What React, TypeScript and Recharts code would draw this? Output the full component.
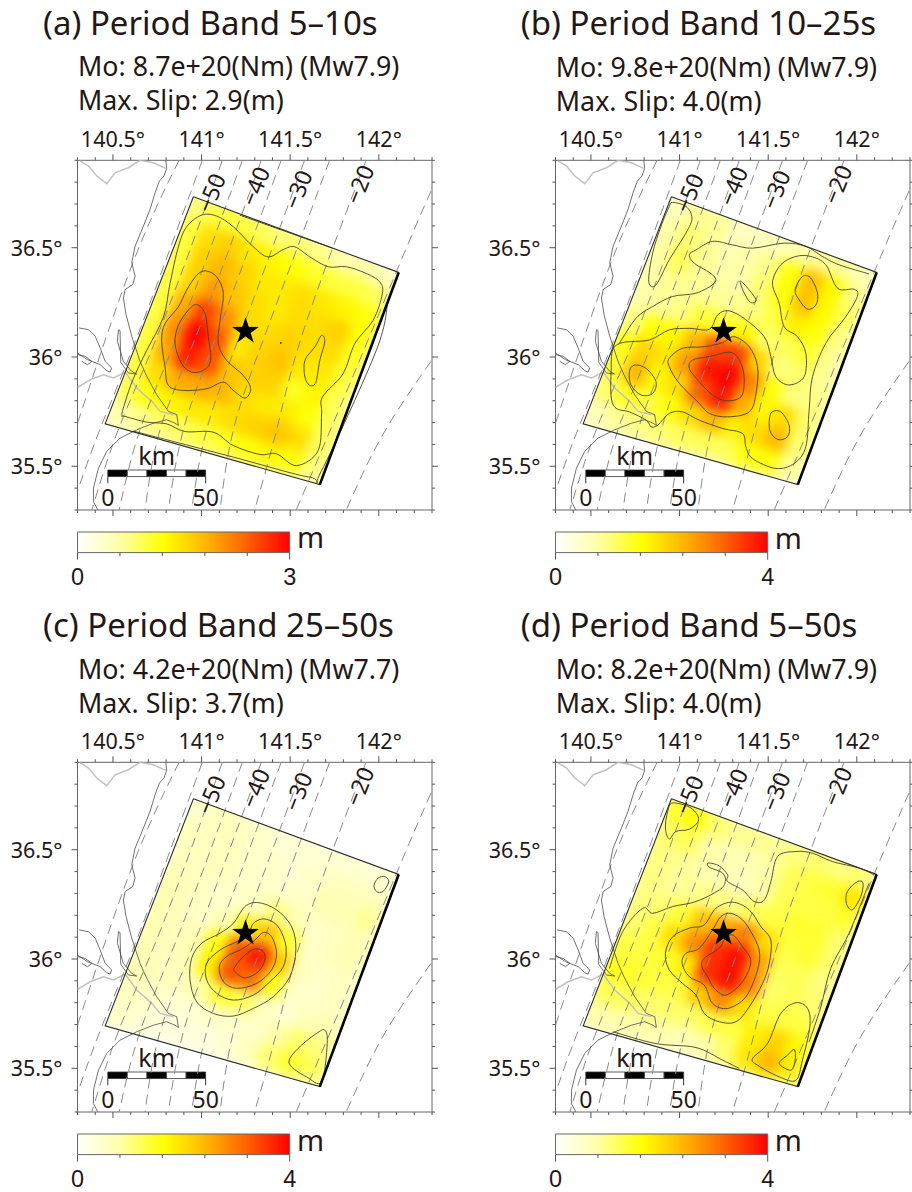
import React from 'react';
import { ScatterChart, Scatter, XAxis, YAxis, ReferenceArea } from 'recharts';

type Pt = [number, number];

const INK = '#231815';
const FONT = '"Noto Sans", sans-serif';

const lonTicks = [140.3, 140.4, 140.5, 140.6, 140.7, 140.8, 140.9, 141, 141.1, 141.2, 141.3, 141.4, 141.5, 141.6, 141.7, 141.8, 141.9, 142, 142.1, 142.2, 142.3];
const latTicks = [35.3, 35.4, 35.5, 35.6, 35.7, 35.8, 35.9, 36, 36.1, 36.2, 36.3, 36.4, 36.5, 36.6, 36.7, 36.8, 36.9];
const lonLabels = [140.5, 141, 141.5, 142];
const latLabels = [35.5, 36, 36.5];

const faultCorners: Pt[] = [[140.954, 36.733], [142.112, 36.387], [141.667, 35.416], [140.456, 35.694]];
const epicenter: Pt = [141.248, 36.118];

// colour table of the slip scale, position 0-1
const colorStops: [number, string][] = [[0, '#ffffff'], [0.2, '#ffffa8'], [0.41, '#ffff00'], [0.6, '#ffb800'], [0.8, '#ff6000'], [1, '#ff0000']];

const barTicks3 = [0, 0.6, 1.2, 1.8, 2.4, 3];
const barTicks4 = [0, 0.8, 1.6, 2.4, 3.2, 4];

const scaleBarLon = [140.471, 140.581, 140.692, 140.802, 140.913, 141.023];

const coastMain: Pt[] = [[140.798, 36.9], [140.803, 36.863], [140.788, 36.828], [140.762, 36.805], [140.738, 36.752], [140.709, 36.675], [140.672, 36.599], [140.625, 36.507], [140.606, 36.431], [140.625, 36.37], [140.612, 36.332], [140.569, 36.309], [140.559, 36.27], [140.574, 36.194], [140.606, 36.095], [140.653, 35.98], [140.691, 35.911], [140.747, 35.827], [140.813, 35.751], [140.86, 35.736], [140.869, 35.687], [140.85, 35.697], [140.803, 35.713], [140.728, 35.697], [140.634, 35.667], [140.54, 35.629], [140.465, 35.568], [140.418, 35.491], [140.39, 35.4], [140.39, 35.338], [140.415, 35.3]];
const lakeNorth: Pt[] = [[140.309, 36.133], [140.362, 36.125], [140.4, 36.095], [140.428, 36.041], [140.456, 35.98], [140.493, 35.95], [140.484, 35.931], [140.465, 35.937], [140.428, 35.965], [140.356, 35.988], [140.3, 36.018]];
const lakeSouth: Pt[] = [[140.3, 36.011], [140.343, 36.003], [140.381, 35.98], [140.356, 35.965], [140.324, 35.98]];
const lakeEast: Pt[] = [[140.54, 36.121], [140.531, 36.125], [140.525, 36.072], [140.559, 35.98], [140.606, 35.934], [140.634, 35.922], [140.587, 35.927], [140.544, 35.976], [140.54, 36.121]];
const borderNorth: Pt[] = [[140.315, 36.897], [140.362, 36.874], [140.409, 36.828], [140.465, 36.793], [140.512, 36.843], [140.587, 36.866], [140.653, 36.9], [140.728, 36.889], [140.798, 36.863]];
const borderSouth: Pt[] = [[140.3, 35.861], [140.371, 35.896], [140.446, 35.919], [140.503, 35.904], [140.569, 35.931], [140.634, 35.858], [140.719, 35.797], [140.766, 35.751], [140.841, 35.736]];

const depthLines: Pt[][] = [
  [[140.873, 36.9], [140.61, 36.426], [140.3, 35.697]],
  [[141.004, 36.9], [140.657, 36.136], [140.431, 35.678], [140.3, 35.387]],
  [[141.117, 36.9], [140.77, 36.136], [140.535, 35.678], [140.381, 35.3]],
  [[141.23, 36.9], [140.882, 36.136], [140.657, 35.678], [140.535, 35.3]],
  [[141.337, 36.9], [140.989, 36.136], [140.77, 35.678], [140.681, 35.3]],
  [[141.449, 36.9], [141.102, 36.136], [140.901, 35.678], [140.813, 35.3]],
  [[141.581, 36.9], [141.233, 36.136], [141.032, 35.678], [140.944, 35.3]],
  [[141.722, 36.9], [141.374, 36.136], [141.183, 35.678], [141.104, 35.3]],
  [[141.928, 36.9], [141.581, 36.136], [141.427, 35.678], [141.299, 35.3]],
  [[142.294, 36.759], [142.116, 36.423], [141.834, 35.873], [141.534, 35.3]],
  [[142.294, 35.98], [142.022, 35.644], [141.816, 35.3]],
];
const depthLabels = [
  { lon: 141.051, lat: 36.752, text: '\u221250' },
  { lon: 141.301, lat: 36.782, text: '\u221240' },
  { lon: 141.541, lat: 36.767, text: '\u221230' },
  { lon: 141.889, lat: 36.79, text: '\u221220' },
];

// slip (m) on the fault plane, rows from the top edge down, columns left to right
const slipA = [
  [0.8, 1.0, 1.0, 0.9, 0.8, 0.8, 0.7, 0.6, 0.6, 0.5],
  [1.0, 1.5, 1.6, 1.4, 1.3, 1.2, 1.1, 1.0, 1.0, 0.9],
  [1.0, 1.6, 1.8, 1.6, 1.4, 1.4, 1.5, 1.4, 1.3, 1.2],
  [1.0, 1.6, 2.0, 1.7, 1.5, 1.4, 1.5, 1.5, 1.6, 1.2],
  [1.0, 1.9, 2.6, 2.1, 1.5, 1.5, 1.6, 1.5, 1.5, 1.1],
  [1.0, 2.1, 3.0, 2.5, 1.4, 1.6, 1.7, 1.4, 1.4, 1.0],
  [1.0, 1.9, 2.8, 2.5, 1.7, 1.6, 1.6, 1.1, 1.3, 0.9],
  [1.0, 1.5, 1.9, 1.9, 1.8, 1.5, 1.4, 1.4, 1.2, 0.9],
  [0.9, 1.2, 1.3, 1.4, 1.4, 1.5, 1.6, 1.7, 1.5, 0.9],
  [0.6, 0.7, 0.8, 0.9, 1.0, 1.1, 1.2, 1.3, 1.2, 0.8],
];
const slipB = [
  [0.6, 0.9, 0.9, 0.6, 0.6, 0.7, 0.8, 0.9, 0.9, 0.7],
  [0.8, 1.1, 0.9, 0.7, 0.8, 1.0, 1.6, 2.3, 1.7, 1.0],
  [0.8, 1.2, 0.9, 0.8, 0.8, 1.1, 1.6, 2.3, 1.7, 1.2],
  [0.8, 0.9, 0.9, 0.9, 0.9, 1.0, 1.3, 1.8, 1.6, 1.0],
  [0.8, 0.9, 1.0, 1.4, 1.5, 1.7, 1.1, 1.2, 1.4, 0.9],
  [1.0, 1.6, 1.7, 2.4, 3.4, 3.5, 2.1, 1.0, 1.1, 0.9],
  [1.5, 2.1, 1.9, 2.7, 3.8, 4.0, 2.9, 1.6, 1.0, 1.0],
  [1.4, 2.4, 1.7, 2.0, 3.2, 3.8, 2.5, 1.7, 2.0, 1.1],
  [1.1, 1.5, 1.3, 1.6, 2.0, 2.4, 1.8, 2.0, 2.4, 1.1],
  [0.7, 0.9, 1.0, 1.1, 1.2, 1.2, 1.2, 1.6, 1.6, 0.9],
];
const slipC = [
  [0.5, 0.6, 0.6, 0.5, 0.4, 0.4, 0.4, 0.4, 0.4, 0.4],
  [0.6, 0.6, 0.6, 0.5, 0.5, 0.4, 0.5, 0.6, 0.6, 0.6],
  [0.6, 0.6, 0.6, 0.5, 0.5, 0.5, 0.5, 0.7, 0.7, 0.9],
  [0.7, 0.6, 0.5, 0.5, 0.6, 1.0, 0.7, 0.5, 0.6, 0.7],
  [0.7, 0.6, 0.5, 0.7, 1.8, 2.3, 1.4, 0.5, 0.6, 0.7],
  [0.7, 0.6, 0.7, 1.6, 3.3, 3.8, 2.2, 0.6, 0.5, 0.6],
  [0.7, 0.6, 0.7, 1.8, 3.3, 3.1, 1.5, 0.5, 0.5, 0.6],
  [0.7, 0.6, 0.6, 0.8, 1.4, 1.2, 0.6, 0.4, 0.6, 0.7],
  [0.6, 0.5, 0.4, 0.4, 0.5, 0.5, 0.5, 0.8, 1.1, 1.0],
  [0.5, 0.4, 0.3, 0.3, 0.3, 0.4, 0.6, 1.1, 1.4, 1.2],
];
const slipD = [
  [1.4, 1.6, 1.1, 0.9, 0.9, 0.9, 1.0, 1.1, 1.0, 1.1],
  [1.1, 1.2, 0.8, 0.7, 0.7, 0.8, 1.2, 1.3, 1.4, 1.9],
  [1.0, 0.9, 0.8, 0.7, 0.6, 0.8, 1.2, 1.3, 1.3, 1.4],
  [1.0, 0.9, 0.9, 1.0, 1.0, 1.2, 1.3, 1.4, 1.4, 1.1],
  [1.0, 1.1, 1.4, 2.3, 2.6, 2.9, 2.0, 1.3, 1.4, 1.1],
  [1.1, 1.3, 2.0, 2.8, 3.6, 3.9, 2.7, 1.2, 1.2, 1.0],
  [1.3, 1.3, 1.4, 1.8, 3.6, 3.9, 2.9, 1.1, 1.2, 1.1],
  [1.5, 1.4, 1.3, 1.3, 2.2, 2.8, 2.0, 1.3, 1.3, 1.3],
  [1.2, 1.2, 1.1, 1.1, 1.1, 1.3, 1.3, 1.8, 2.1, 1.7],
  [0.8, 0.8, 0.8, 0.8, 0.7, 0.8, 1.1, 1.9, 2.4, 1.8],
];

const closedA: Pt[][] = [
  [[140.55, 35.733], [140.569, 35.794], [140.615, 35.901], [140.691, 36.031], [140.785, 36.183], [140.822, 36.336], [140.869, 36.504], [140.916, 36.596], [141.0, 36.649], [141.085, 36.645], [141.179, 36.596], [141.292, 36.504], [141.376, 36.458], [141.461, 36.492], [141.526, 36.504], [141.611, 36.458], [141.714, 36.413], [141.817, 36.413], [141.93, 36.382], [142.005, 36.344], [142.02, 36.29], [141.968, 36.168], [141.864, 36.061], [141.799, 35.924], [141.682, 35.817], [141.677, 35.74], [141.658, 35.572], [141.536, 35.503], [141.423, 35.557], [141.329, 35.554], [141.179, 35.595], [141.066, 35.656], [140.907, 35.659], [140.803, 35.694], [140.691, 35.702], [140.569, 35.728]],
  [[141.023, 36.394], [141.085, 36.367], [141.123, 36.29], [141.104, 36.168], [141.094, 36.061], [141.141, 35.985], [141.235, 35.916], [141.277, 35.855], [141.245, 35.812], [141.179, 35.847], [141.123, 35.885], [141.029, 35.855], [140.897, 35.847], [140.813, 35.87], [140.794, 35.954], [140.775, 36.076], [140.794, 36.153], [140.869, 36.229], [140.916, 36.306], [140.972, 36.374]],
  [[140.972, 36.24], [141.019, 36.199], [141.038, 36.092], [141.051, 35.985], [141.01, 35.939], [140.944, 35.931], [140.888, 35.969], [140.85, 36.061], [140.869, 36.145], [140.925, 36.214]],
  [[141.677, 36.099], [141.695, 36.069], [141.667, 35.985], [141.645, 35.885], [141.611, 35.87], [141.583, 35.908], [141.583, 35.985], [141.639, 36.046]],
];
const openA: Pt[][] = [
  [[141.216, 36.649], [141.451, 36.581], [141.742, 36.497]],
  [[140.615, 35.661], [141.179, 35.542], [141.611, 35.45], [141.677, 35.48], [141.986, 36.031], [142.052, 36.26]],
];

const closedB: Pt[][] = [
  [[140.623, 36.032], [140.679, 36.066], [140.83, 36.078], [140.942, 36.124], [141.055, 36.131], [141.168, 36.127], [141.215, 36.193], [141.28, 36.211], [141.374, 36.17], [141.478, 36.093], [141.515, 36.002], [141.543, 35.91], [141.618, 35.872], [141.703, 35.91], [141.712, 36.017], [141.665, 36.093], [141.59, 36.139], [141.562, 36.246], [141.524, 36.338], [141.571, 36.422], [141.656, 36.46], [141.74, 36.46], [141.825, 36.422], [141.891, 36.315], [141.985, 36.31], [142.003, 36.277], [141.938, 36.185], [141.825, 36.063], [141.75, 35.91], [141.731, 35.757], [141.712, 35.589], [141.647, 35.513], [141.543, 35.49], [141.412, 35.535], [141.374, 35.589], [141.355, 35.65], [141.243, 35.673], [141.111, 35.711], [141.017, 35.749], [140.942, 35.742], [140.877, 35.688], [140.839, 35.681], [140.811, 35.711], [140.717, 35.749], [140.642, 35.765], [140.614, 35.818], [140.614, 35.94]],
  [[140.942, 35.994], [141.017, 36.04], [141.139, 36.047], [141.243, 36.066], [141.308, 36.093], [141.393, 36.047], [141.44, 35.956], [141.431, 35.833], [141.393, 35.749], [141.271, 35.726], [141.168, 35.742], [141.111, 35.788], [140.999, 35.879], [140.942, 35.956]],
  [[141.055, 35.948], [141.074, 35.986], [141.168, 36.002], [141.29, 36.021], [141.346, 35.971], [141.365, 35.895], [141.346, 35.818], [141.262, 35.8], [141.186, 35.826], [141.111, 35.887]],
  [[141.693, 36.368], [141.74, 36.361], [141.778, 36.292], [141.769, 36.238], [141.722, 36.219], [141.675, 36.261], [141.652, 36.307]],
  [[140.745, 35.963], [140.811, 35.948], [140.867, 35.887], [140.848, 35.833], [140.783, 35.826], [140.726, 35.872], [140.717, 35.933]],
  [[141.515, 35.742], [141.571, 35.749], [141.618, 35.688], [141.609, 35.635], [141.553, 35.623], [141.509, 35.665]],
  [[141.342, 36.348], [141.393, 36.307], [141.431, 36.261], [141.402, 36.249], [141.365, 36.292]],
  [[140.961, 36.707], [141.036, 36.689], [141.07, 36.636], [141.036, 36.567], [140.942, 36.445], [140.867, 36.33], [140.826, 36.345], [140.848, 36.475], [140.895, 36.597], [140.942, 36.689]],
];
const openB: Pt[][] = [
  [[142.069, 36.38], [141.9, 36.422], [141.806, 36.46], [141.712, 36.506], [141.59, 36.521], [141.412, 36.498], [141.299, 36.513], [141.186, 36.529], [141.093, 36.49], [141.055, 36.468], [141.083, 36.429], [141.186, 36.376], [141.196, 36.338], [141.093, 36.292], [140.961, 36.277], [140.848, 36.231], [140.754, 36.177], [140.661, 36.063]],
];

const closedC: Pt[][] = [
  [[141.245, 36.24], [141.32, 36.258], [141.423, 36.225], [141.508, 36.148], [141.532, 36.041], [141.498, 35.919], [141.404, 35.827], [141.292, 35.774], [141.179, 35.739], [141.066, 35.751], [140.972, 35.804], [140.935, 35.904], [140.944, 36.003], [141.0, 36.072], [141.104, 36.118], [141.179, 36.163]],
  [[141.292, 36.163], [141.357, 36.183], [141.432, 36.148], [141.476, 36.057], [141.461, 35.965], [141.385, 35.896], [141.292, 35.835], [141.179, 35.812], [141.085, 35.843], [141.029, 35.904], [141.029, 35.98], [141.104, 36.041], [141.198, 36.079], [141.263, 36.11]],
  [[141.348, 36.121], [141.395, 36.102], [141.423, 36.026], [141.395, 35.95], [141.31, 35.888], [141.198, 35.866], [141.123, 35.896], [141.1, 35.965], [141.141, 36.011], [141.235, 36.049], [141.301, 36.087]],
  [[141.301, 36.046], [141.348, 36.034], [141.357, 35.995], [141.32, 35.942], [141.245, 35.914], [141.188, 35.942], [141.188, 35.965], [141.245, 36.018]],
  [[142.033, 36.377], [142.056, 36.354], [142.024, 36.309], [141.986, 36.309], [141.973, 36.339], [141.996, 36.37]],
  [[141.695, 35.675], [141.709, 35.613], [141.677, 35.438], [141.592, 35.461], [141.508, 35.506], [141.498, 35.545], [141.564, 35.606], [141.648, 35.659]],
];
const openC: Pt[][] = [];

const closedD: Pt[][] = [
  [[141.299, 36.26], [141.393, 36.225], [141.459, 36.148], [141.515, 36.087], [141.506, 35.98], [141.468, 35.888], [141.393, 35.781], [141.318, 35.713], [141.224, 35.713], [141.139, 35.751], [141.093, 35.835], [141.017, 35.888], [140.942, 35.95], [140.92, 36.026], [140.961, 36.102], [141.055, 36.141], [141.139, 36.156], [141.205, 36.232]],
  [[141.29, 36.209], [141.355, 36.179], [141.402, 36.125], [141.449, 36.041], [141.44, 35.95], [141.374, 35.827], [141.271, 35.774], [141.186, 35.797], [141.139, 35.881], [141.055, 35.919], [141.014, 35.98], [141.036, 36.026], [141.111, 36.049], [141.186, 36.133], [141.233, 36.194]],
  [[141.299, 36.11], [141.355, 36.057], [141.402, 35.988], [141.355, 35.896], [141.262, 35.835], [141.196, 35.866], [141.158, 35.919], [141.126, 35.965], [141.139, 36.003], [141.224, 36.049], [141.252, 36.087]],
  [[140.961, 36.714], [141.064, 36.691], [141.108, 36.637], [141.055, 36.594], [140.98, 36.584], [140.942, 36.549], [140.92, 36.599], [140.933, 36.675]],
  [[142.003, 36.354], [142.035, 36.347], [142.022, 36.286], [141.975, 36.225], [141.941, 36.255], [141.947, 36.309]],
  [[141.656, 35.8], [141.722, 35.774], [141.735, 35.69], [141.693, 35.537], [141.656, 35.445], [141.562, 35.461], [141.44, 35.514], [141.412, 35.545], [141.496, 35.613], [141.571, 35.751]],
  [[141.647, 35.586], [141.652, 35.537], [141.628, 35.491], [141.562, 35.522], [141.609, 35.56]],
];
const openD: Pt[][] = [
  [[140.604, 35.957], [140.679, 36.125], [140.792, 36.232], [140.848, 36.209], [140.961, 36.24], [141.093, 36.263], [141.224, 36.316], [141.258, 36.354], [141.243, 36.393], [141.168, 36.42], [141.162, 36.439], [141.224, 36.426], [141.271, 36.385], [141.271, 36.354], [141.355, 36.316], [141.421, 36.263], [141.478, 36.27], [141.515, 36.354], [141.553, 36.469], [141.656, 36.492], [141.75, 36.484], [141.862, 36.446], [142.013, 36.416], [142.097, 36.385]],
  [[140.623, 35.667], [140.867, 35.613], [141.093, 35.595], [141.243, 35.537], [141.337, 35.499]],
  [[141.731, 35.621], [141.797, 35.781], [141.853, 35.957], [141.956, 36.118], [142.069, 36.347]],
];

const speckA: Pt[] = [[141.447, 36.064]];
const speckB: Pt[] = [[141.168, 35.948]];

const toPoints = (pts: Pt[]) => pts.map(([lon, lat]) => ({ lon, lat }));
const noMark = () => <g />;

const hex = (s: string, i: number) => parseInt(s.slice(i, i + 2), 16);
function slipColor(frac: number) {
  const f = Math.max(0, Math.min(1, frac));
  for (let k = 1; k < colorStops.length; k++) {
    const [p0, c0] = colorStops[k - 1];
    const [p1, c1] = colorStops[k];
    if (f <= p1) {
      const t = (f - p0) / (p1 - p0);
      const mix = (i: number) => Math.round(hex(c0, i) + (hex(c1, i) - hex(c0, i)) * t);
      return `rgb(${mix(1)},${mix(3)},${mix(5)})`;
    }
  }
  return '#ff0000';
}

// cell centres on the fault plane; two extra rings keep the blur solid up to the fault edge
function buildCells(grid: number[][]) {
  const [tl, tr, br, bl] = faultCorners;
  const cells: { lon: number; lat: number; slip: number }[] = [];
  for (let j = -2; j < 12; j++) {
    for (let i = -2; i < 12; i++) {
      const u = (i + 0.5) / 10;
      const v = (j + 0.5) / 10;
      const mixAt = (k: number) => tl[k] * (1 - u) * (1 - v) + tr[k] * u * (1 - v) + br[k] * u * v + bl[k] * (1 - u) * v;
      const row = grid[Math.max(0, Math.min(9, j))];
      const outside = i < 0 || i > 9 || j < 0 || j > 9;
      const value = row[Math.max(0, Math.min(9, i))];
      cells.push({ lon: mixAt(0), lat: mixAt(1), slip: outside ? value * 0.55 : value });
    }
  }
  return cells;
}

// Catmull-Rom through the digitised vertices, the contours have sharp bends the basis curve rounds off
function smoothPath(pts: { x: number; y: number }[], closed: boolean) {
  const n = pts.length;
  const at = (i: number) => (closed ? pts[(i + n) % n] : pts[Math.max(0, Math.min(n - 1, i))]);
  let d = `M${pts[0].x},${pts[0].y}`;
  const last = closed ? n : n - 1;
  for (let i = 0; i < last; i++) {
    const [p0, p1, p2, p3] = [at(i - 1), at(i), at(i + 1), at(i + 2)];
    const c1x = p1.x + (p2.x - p0.x) / 6;
    const c1y = p1.y + (p2.y - p0.y) / 6;
    const c2x = p2.x - (p3.x - p1.x) / 6;
    const c2y = p2.y - (p3.y - p1.y) / 6;
    d += `C${c1x},${c1y} ${c2x},${c2y} ${p2.x},${p2.y}`;
  }
  return closed ? `${d}Z` : d;
}

const contourLine = (closed: boolean) => (p: any) => (
  <path d={smoothPath(p.points, closed)} fill="none" stroke="#45432e" strokeWidth={0.9} />
);

const LonTick = ({ x, y, payload, side }: any) => {
  const major = lonLabels.includes(payload.value);
  const dir = side === 'top' ? -1 : 1;
  return (
    <g>
      <line x1={x} x2={x} y1={y} y2={y + dir * (major ? 6 : 3)} stroke="#555" />
      {major && side === 'top' && (
        <text x={x} y={y - 13.5} textAnchor="middle" fontFamily={FONT} fontSize={21.5} fill={INK}>{`${payload.value}\u00b0`}</text>
      )}
    </g>
  );
};

const LatTick = ({ x, y, payload, side }: any) => {
  const major = latLabels.includes(payload.value);
  const dir = side === 'left' ? -1 : 1;
  return (
    <g>
      <line x1={x} x2={x + dir * (major ? 6 : 3)} y1={y} y2={y} stroke="#555" />
      {major && side === 'left' && (
        <text x={x - 15} y={y + 8} textAnchor="end" fontFamily={FONT} fontSize={21.5} fill={INK}>{`${payload.value}\u00b0`}</text>
      )}
    </g>
  );
};

// Liberation here: its shorter descent keeps the label box inside the bottom of the page
const BarTick = ({ x, y, payload, last }: any) => {
  const end = payload.value === 0 || payload.value === last;
  return (
    <g>
      <line x1={x} x2={x} y1={y} y2={y + (end ? 7 : 3.5)} stroke="#555" />
      {end && <text x={x} y={y + 32} textAnchor="middle" fontFamily='"Liberation Sans", sans-serif' fontSize={23.5} fill={INK}>{payload.value}</text>}
    </g>
  );
};

const TextMark = ({ cx, cy, payload, size, rotate }: any) => (
  <text x={cx} y={cy} textAnchor="middle" dominantBaseline="central" fontFamily={FONT} fontSize={size} fill={INK} transform={rotate ? `rotate(${rotate} ${cx} ${cy})` : undefined}>
    {payload.text}
  </text>
);

const StarMark = ({ cx, cy }: any) => {
  const pts: string[] = [];
  for (let k = 0; k < 10; k++) {
    const r = k % 2 === 0 ? 14 : 5.4;
    const a = (Math.PI / 5) * k - Math.PI / 2;
    pts.push(`${cx + r * Math.cos(a)},${cy + r * Math.sin(a)}`);
  }
  return <polygon points={pts.join(' ')} fill="#000" />;
};

const thinLine = (stroke: string, strokeWidth: number, strokeDasharray?: string) => ({ stroke, strokeWidth, strokeDasharray });

function MapPanel({ id, left, top, heading, moment, peak, slip, scaleMax, closed, open, specks, barTicks }: any) {
  const cells = buildCells(slip);
  const chartTop = top - 40.3;
  return (
    <>
      <div style={{ position: 'absolute', left: left + 43, top: top - 157.5, fontFamily: FONT, fontSize: 33, lineHeight: '40px', color: INK, whiteSpace: 'nowrap' }}>{heading}</div>
      <div style={{ position: 'absolute', left: left + 78, top: top - 111, fontFamily: FONT, fontSize: 26.8, lineHeight: '34px', color: INK, whiteSpace: 'nowrap' }}>
        {moment}
        <br />
        {peak}
      </div>
      <style>{`.heat-${id}{filter:url(#blur-${id});clip-path:url(#clip-${id})}`}</style>
      <div style={{ position: 'absolute', left, top: chartTop }}>
        <ScatterChart width={456} height={402} margin={{ top: 0.3, right: 14, bottom: 0, left: 37.5 }}>
          <defs>
            <filter id={`blur-${id}`} x="-20%" y="-20%" width="140%" height="140%" colorInterpolationFilters="sRGB">
              <feGaussianBlur stdDeviation="6" />
            </filter>
          </defs>
          <XAxis type="number" dataKey="lon" domain={[140.3, 142.3]} allowDataOverflow ticks={lonTicks} interval={0} height={12} orientation="bottom" axisLine={{ stroke: '#666' }} tickLine={false} tickSize={0} tickMargin={0} tick={<LonTick side="bottom" />} />
          <XAxis xAxisId="top" type="number" dataKey="lon" domain={[140.3, 142.3]} allowDataOverflow ticks={lonTicks} interval={0} height={40} orientation="top" axisLine={{ stroke: '#666' }} tickLine={false} tickSize={0} tickMargin={0} tick={<LonTick side="top" />} />
          <YAxis type="number" dataKey="lat" domain={[35.3, 36.9]} allowDataOverflow ticks={latTicks} interval={0} width={40} orientation="left" axisLine={{ stroke: '#666' }} tickLine={false} tickSize={0} tickMargin={0} tick={<LatTick side="left" />} />
          <YAxis yAxisId="right" type="number" dataKey="lat" domain={[35.3, 36.9]} allowDataOverflow ticks={latTicks} interval={0} width={10} orientation="right" axisLine={{ stroke: '#666' }} tickLine={false} tickSize={0} tickMargin={0} tick={<LatTick side="right" />} />

          {/* only there to get the fault polygon in pixels for the clip */}
          <Scatter
            data={toPoints(faultCorners)}
            isAnimationActive={false}
            shape={noMark}
            line={(p: any) => (
              <clipPath id={`clip-${id}`}>
                <polygon points={p.points.map((q: any) => `${q.x},${q.y}`).join(' ')} />
              </clipPath>
            )}
          />
          <Scatter
            className={`heat-${id}`}
            data={cells}
            isAnimationActive={false}
            shape={(p: any) => (
              <rect x={p.cx - 14} y={p.cy - 15} width={28} height={30} fill={slipColor(p.payload.slip / scaleMax)} transform={`rotate(20.5 ${p.cx} ${p.cy})`} />
            )}
          />

          {[borderNorth, borderSouth].map((pts, i) => (
            <Scatter key={`b${i}`} data={toPoints(pts)} isAnimationActive={false} shape={noMark} line={thinLine('#c2c2c2', 1.5)} />
          ))}
          {depthLines.map((pts, i) => (
            <Scatter key={`d${i}`} data={toPoints(pts)} isAnimationActive={false} shape={noMark} lineJointType="natural" line={thinLine('#8a8a8a', 1, '10 6')} />
          ))}
          {[coastMain, lakeNorth, lakeSouth, lakeEast].map((pts, i) => (
            <Scatter key={`c${i}`} data={toPoints(pts)} isAnimationActive={false} shape={noMark} line={thinLine('#4d4d4d', 0.8)} />
          ))}
          {closed.map((pts: Pt[], i: number) => (
            <Scatter key={`k${i}`} data={toPoints(pts)} isAnimationActive={false} shape={noMark} line={contourLine(true)} />
          ))}
          {open.map((pts: Pt[], i: number) => (
            <Scatter key={`o${i}`} data={toPoints(pts)} isAnimationActive={false} shape={noMark} line={contourLine(false)} />
          ))}
          {specks && <Scatter data={toPoints(specks)} isAnimationActive={false} shape={(p: any) => <circle cx={p.cx} cy={p.cy} r={0.9} fill="#702010" />} />}

          <Scatter data={toPoints([...faultCorners, faultCorners[0]])} isAnimationActive={false} shape={noMark} line={thinLine('#2f2f2f', 1.1)} />
          <Scatter data={toPoints([faultCorners[1], faultCorners[2]])} isAnimationActive={false} shape={noMark} line={thinLine('#000', 2.6)} />

          <Scatter data={depthLabels} isAnimationActive={false} shape={<TextMark size={23} rotate={-68} />} />
          <Scatter data={toPoints([epicenter])} isAnimationActive={false} shape={<StarMark />} />

          {scaleBarLon.slice(0, -1).map((lon, i) => (
            <ReferenceArea key={`s${i}`} x1={lon} x2={scaleBarLon[i + 1]} y1={35.453} y2={35.483} fill={i % 2 === 0 ? '#000' : '#fff'} fillOpacity={1} stroke="#333" strokeWidth={0.8} />
          ))}
          {[scaleBarLon[0], scaleBarLon[5]].map((lon, i) => (
            <Scatter key={`t${i}`} data={[{ lon, lat: 35.453 }, { lon, lat: 35.422 }]} isAnimationActive={false} shape={noMark} line={thinLine('#333', 1)} />
          ))}
          <Scatter
            data={[{ lon: 140.747, lat: 35.552, text: 'km' }]}
            isAnimationActive={false}
            shape={<TextMark size={25} />}
          />
          <Scatter
            data={[{ lon: scaleBarLon[0], lat: 35.358, text: '0' }, { lon: scaleBarLon[5], lat: 35.358, text: '50' }]}
            isAnimationActive={false}
            shape={<TextMark size={23} />}
          />
        </ScatterChart>
      </div>

      <div style={{ position: 'absolute', left, top: top + 351.4 }}>
        <ScatterChart width={456} height={77.9} margin={{ top: 20, right: 166.3, bottom: 0.3, left: 77.5 }}>
          <defs>
            <linearGradient id={`bar-${id}`} x1="0" y1="0" x2="1" y2="0">
              {colorStops.map(([p, c]) => <stop key={p} offset={p} stopColor={c} />)}
            </linearGradient>
          </defs>
          <XAxis type="number" dataKey="v" domain={[0, scaleMax]} ticks={barTicks} interval={0} height={37} axisLine={false} tickLine={false} tickSize={0} tickMargin={0} tick={<BarTick last={scaleMax} />} />
          <YAxis type="number" dataKey="w" domain={[0, 1]} hide />
          <Scatter data={[{ v: 0, w: 0 }, { v: scaleMax, w: 1 }]} isAnimationActive={false} shape={noMark} />
          <ReferenceArea x1={0} x2={scaleMax} y1={0} y2={1} fill={`url(#bar-${id})`} fillOpacity={1} stroke="#666" strokeWidth={1} />
        </ScatterChart>
      </div>
      <div style={{ position: 'absolute', left: left + 297, top: top + 362, fontFamily: FONT, fontSize: 29, lineHeight: '30px', color: INK }}>m</div>
    </>
  );
}

export default function App() {
  return (
    <div style={{ position: 'absolute', left: 0, top: 0, width: 912, height: 1192, background: '#fff', overflow: 'hidden' }}>
      <MapPanel id="a" left={0} top={160.3} heading="(a) Period Band 5–10s" moment="Mo: 8.7e+20(Nm) (Mw7.9)" peak="Max. Slip: 2.9(m)" slip={slipA} scaleMax={3} closed={closedA} open={openA} specks={speckA} barTicks={barTicks3} />
      <MapPanel id="b" left={477.8} top={160.7} heading="(b) Period Band 10–25s" moment="Mo: 9.8e+20(Nm) (Mw7.9)" peak="Max. Slip: 4.0(m)" slip={slipB} scaleMax={4} closed={closedB} open={openB} specks={speckB} barTicks={barTicks4} />
      <MapPanel id="c" left={0} top={762.7} heading="(c) Period Band 25–50s" moment="Mo: 4.2e+20(Nm) (Mw7.7)" peak="Max. Slip: 3.7(m)" slip={slipC} scaleMax={4} closed={closedC} open={openC} barTicks={barTicks4} />
      <MapPanel id="d" left={477.8} top={762.7} heading="(d) Period Band 5–50s" moment="Mo: 8.2e+20(Nm) (Mw7.9)" peak="Max. Slip: 4.0(m)" slip={slipD} scaleMax={4} closed={closedD} open={openD} barTicks={barTicks4} />
    </div>
  );
}
